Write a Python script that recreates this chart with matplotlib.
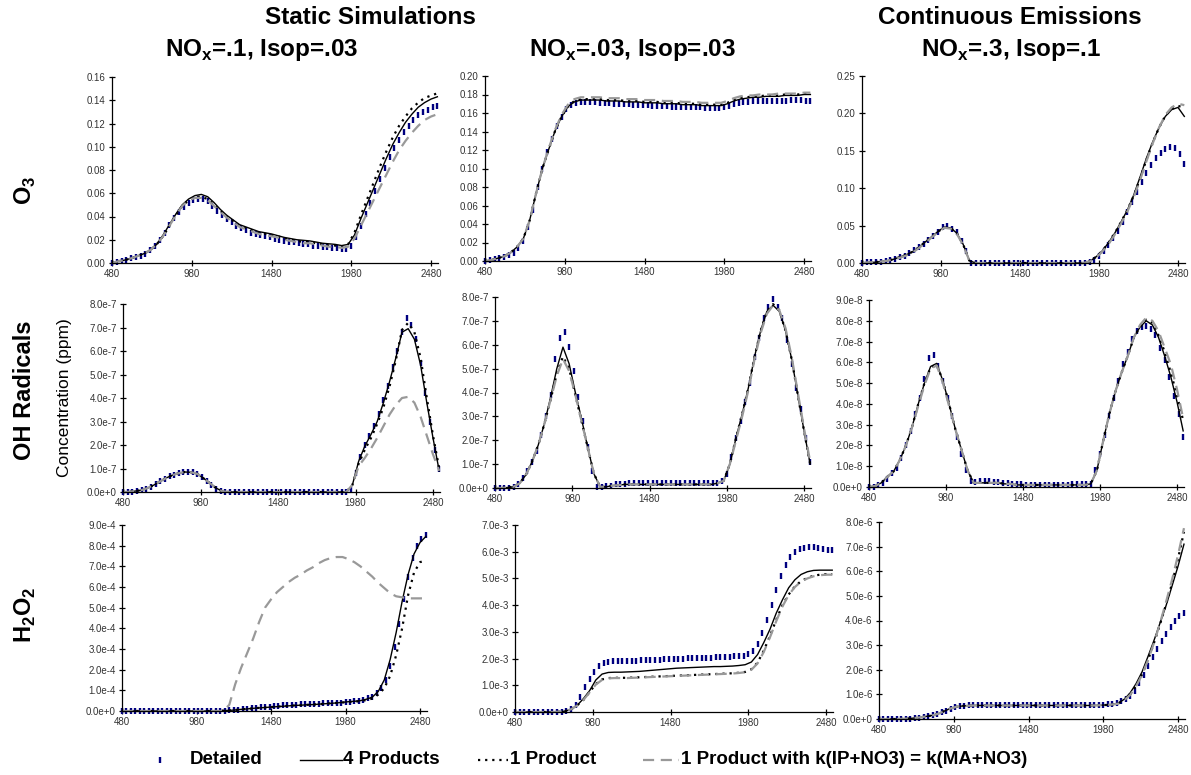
import numpy as np
import matplotlib
matplotlib.use('Agg')
import matplotlib.pyplot as plt
from matplotlib.lines import Line2D

plt.rcParams['font.family'] = ['Liberation Sans', 'DejaVu Sans']
plt.rcParams['mathtext.fontset'] = 'custom'
plt.rcParams['mathtext.rm'] = 'Liberation Sans'
plt.rcParams['mathtext.bf'] = 'Liberation Sans:bold'

# time (min) for the detailed model and for the condensed mechanisms
t_det = list(range(480, 2521, 30))
t_mod = list(range(480, 2521, 40))
x_ticks = [480, 980, 1480, 1980, 2480]

# ---------------- O3, NOx=.1 Isop=.03 (ppm)
o3_a_det = [0.000, 0.001, 0.002, 0.003, 0.004, 0.005, 0.006, 0.008, 0.011, 0.015,
            0.020, 0.026, 0.033, 0.039, 0.044, 0.048, 0.052, 0.054, 0.055, 0.055,
            0.053, 0.049, 0.045, 0.041, 0.038, 0.035, 0.032, 0.030, 0.028, 0.026,
            0.025, 0.024, 0.023, 0.022, 0.021, 0.020, 0.019, 0.018, 0.018, 0.017,
            0.016, 0.016, 0.015, 0.015, 0.014, 0.014, 0.013, 0.013, 0.012, 0.012,
            0.015, 0.022, 0.032, 0.042, 0.052, 0.062, 0.072, 0.082, 0.091, 0.099,
            0.106, 0.113, 0.118, 0.123, 0.127, 0.130, 0.132, 0.134, 0.135]
o3_a_4p = [0.000, 0.0015, 0.0025, 0.004, 0.006, 0.008, 0.011, 0.016, 0.024, 0.033,
           0.042, 0.050, 0.055, 0.058, 0.059, 0.057, 0.052, 0.046, 0.041, 0.037,
           0.033, 0.031, 0.029, 0.027, 0.026, 0.025, 0.0235, 0.022, 0.021, 0.020,
           0.0195, 0.019, 0.018, 0.017, 0.0165, 0.016, 0.015, 0.016, 0.024, 0.038,
           0.051, 0.064, 0.077, 0.090, 0.102, 0.112, 0.121, 0.128, 0.134, 0.138,
           0.141, 0.143]
o3_a_1p = [0.000, 0.0015, 0.0025, 0.004, 0.006, 0.008, 0.011, 0.016, 0.023, 0.032,
           0.041, 0.049, 0.054, 0.057, 0.057, 0.055, 0.050, 0.045, 0.040, 0.036,
           0.032, 0.030, 0.028, 0.026, 0.025, 0.024, 0.023, 0.021, 0.020, 0.019,
           0.018, 0.018, 0.017, 0.016, 0.015, 0.015, 0.014, 0.016, 0.026, 0.041,
           0.055, 0.069, 0.083, 0.096, 0.108, 0.118, 0.126, 0.133, 0.138, 0.142,
           0.144, 0.146]
o3_a_k = [0.000, 0.0015, 0.0025, 0.004, 0.006, 0.008, 0.011, 0.016, 0.023, 0.032,
          0.041, 0.049, 0.054, 0.056, 0.056, 0.054, 0.049, 0.044, 0.039, 0.035,
          0.031, 0.029, 0.027, 0.025, 0.024, 0.023, 0.022, 0.020, 0.019, 0.018,
          0.017, 0.017, 0.016, 0.015, 0.014, 0.014, 0.013, 0.014, 0.021, 0.032,
          0.043, 0.054, 0.065, 0.076, 0.087, 0.097, 0.105, 0.112, 0.118, 0.123,
          0.126, 0.128]

# ---------------- O3, NOx=.03 Isop=.03
o3_b_det = [0.000, 0.001, 0.002, 0.003, 0.004, 0.006, 0.009, 0.014, 0.022, 0.037,
            0.055, 0.080, 0.100, 0.118, 0.132, 0.146, 0.156, 0.164, 0.169, 0.171,
            0.172, 0.172, 0.172, 0.172, 0.171, 0.171, 0.171, 0.170, 0.170, 0.170,
            0.170, 0.169, 0.169, 0.169, 0.169, 0.168, 0.168, 0.168, 0.168, 0.167,
            0.167, 0.167, 0.167, 0.166, 0.166, 0.166, 0.165, 0.165, 0.165, 0.165,
            0.166, 0.168, 0.170, 0.171, 0.172, 0.172, 0.173, 0.173, 0.173, 0.173,
            0.173, 0.173, 0.173, 0.173, 0.174, 0.174, 0.174, 0.173, 0.173]
o3_b_4p = [0.000, 0.001, 0.003, 0.005, 0.009, 0.015, 0.024, 0.044, 0.073, 0.100,
           0.121, 0.141, 0.156, 0.167, 0.172, 0.174, 0.174, 0.174, 0.174, 0.173,
           0.173, 0.173, 0.172, 0.172, 0.172, 0.171, 0.171, 0.171, 0.170, 0.170,
           0.170, 0.169, 0.169, 0.169, 0.168, 0.168, 0.168, 0.168, 0.170, 0.173,
           0.175, 0.176, 0.177, 0.177, 0.178, 0.178, 0.178, 0.179, 0.179, 0.179,
           0.180, 0.180]
o3_b_1p = [0.000, 0.001, 0.003, 0.005, 0.009, 0.015, 0.024, 0.044, 0.073, 0.100,
           0.121, 0.141, 0.156, 0.167, 0.173, 0.175, 0.175, 0.175, 0.175, 0.174,
           0.174, 0.174, 0.173, 0.173, 0.173, 0.172, 0.172, 0.172, 0.171, 0.171,
           0.171, 0.170, 0.170, 0.170, 0.169, 0.169, 0.169, 0.169, 0.171, 0.174,
           0.176, 0.177, 0.178, 0.178, 0.179, 0.179, 0.179, 0.180, 0.180, 0.180,
           0.181, 0.181]
o3_b_k = [0.000, 0.001, 0.003, 0.005, 0.009, 0.015, 0.024, 0.044, 0.073, 0.100,
          0.122, 0.142, 0.158, 0.169, 0.175, 0.177, 0.177, 0.177, 0.177, 0.176,
          0.176, 0.176, 0.175, 0.175, 0.175, 0.174, 0.174, 0.174, 0.173, 0.173,
          0.173, 0.172, 0.172, 0.172, 0.171, 0.171, 0.171, 0.171, 0.173, 0.176,
          0.178, 0.179, 0.179, 0.180, 0.180, 0.180, 0.181, 0.181, 0.181, 0.181,
          0.182, 0.182]

# ---------------- O3, continuous emissions NOx=.3 Isop=.1
o3_c_det = [0.000, 0.001, 0.001, 0.002, 0.002, 0.003, 0.004, 0.006, 0.008, 0.010,
            0.013, 0.017, 0.021, 0.026, 0.031, 0.036, 0.041, 0.048, 0.049, 0.046,
            0.041, 0.030, 0.016, 0.000, 0.000, 0.000, 0.000, 0.000, 0.000, 0.000,
            0.000, 0.000, 0.000, 0.000, 0.000, 0.000, 0.000, 0.000, 0.000, 0.000,
            0.000, 0.000, 0.000, 0.000, 0.000, 0.000, 0.000, 0.000, 0.001, 0.004,
            0.010, 0.016, 0.024, 0.033, 0.043, 0.055, 0.068, 0.082, 0.095, 0.108,
            0.120, 0.131, 0.140, 0.147, 0.152, 0.155, 0.154, 0.146, 0.133]
o3_c_4p = [0.000, 0.001, 0.001, 0.002, 0.003, 0.005, 0.008, 0.011, 0.015, 0.021,
           0.028, 0.035, 0.042, 0.048, 0.047, 0.040, 0.025, 0.003, 0.000, 0.000,
           0.000, 0.000, 0.000, 0.000, 0.000, 0.000, 0.000, 0.000, 0.000, 0.000,
           0.000, 0.000, 0.000, 0.000, 0.000, 0.000, 0.002, 0.008, 0.016, 0.027,
           0.040, 0.055, 0.071, 0.091, 0.115, 0.140, 0.162, 0.181, 0.196, 0.205,
           0.208, 0.196]
o3_c_1p = [0.000, 0.001, 0.001, 0.002, 0.003, 0.005, 0.008, 0.011, 0.015, 0.021,
           0.028, 0.035, 0.042, 0.047, 0.047, 0.040, 0.025, 0.003, 0.000, 0.000,
           0.000, 0.000, 0.000, 0.000, 0.000, 0.000, 0.000, 0.000, 0.000, 0.000,
           0.000, 0.000, 0.000, 0.000, 0.000, 0.000, 0.002, 0.008, 0.016, 0.027,
           0.040, 0.055, 0.071, 0.090, 0.113, 0.138, 0.161, 0.181, 0.197, 0.206,
           0.210, 0.208]
o3_c_k = [0.000, 0.001, 0.001, 0.002, 0.003, 0.005, 0.007, 0.010, 0.014, 0.020,
          0.027, 0.034, 0.041, 0.047, 0.046, 0.039, 0.024, 0.003, 0.000, 0.000,
          0.000, 0.000, 0.000, 0.000, 0.000, 0.000, 0.000, 0.000, 0.000, 0.000,
          0.000, 0.000, 0.000, 0.000, 0.000, 0.000, 0.002, 0.007, 0.015, 0.025,
          0.038, 0.053, 0.069, 0.088, 0.111, 0.136, 0.160, 0.181, 0.198, 0.208,
          0.213, 0.211]

# ---------------- OH, NOx=.1 Isop=.03 (x 1e-7 ppm)
oh_a_det = [0, 0, 0.02, 0.05, 0.08, 0.14, 0.22, 0.33, 0.45, 0.56,
            0.66, 0.74, 0.80, 0.84, 0.85, 0.83, 0.77, 0.65, 0.48, 0.30,
            0.14, 0.04, 0, 0, 0, 0, 0, 0, 0, 0,
            0, 0, 0, 0, 0, 0, 0, 0, 0, 0,
            0, 0, 0, 0, 0, 0, 0, 0, 0, 0.1,
            0.8, 1.5, 2.0, 2.4, 2.8, 3.3, 3.9, 4.5, 5.3, 6.0,
            6.8, 7.4, 7.1, 6.5, 5.5, 4.2, 3.0, 1.8, 1.0]
oh_a_4p = [0, 0.01, 0.04, 0.08, 0.17, 0.30, 0.45, 0.60, 0.72, 0.80,
           0.85, 0.84, 0.77, 0.58, 0.38, 0.17, 0.03, 0, 0, 0,
           0, 0, 0, 0, 0, 0, 0, 0, 0, 0,
           0, 0, 0, 0, 0, 0, 0, 0.3, 1.3, 1.95,
           2.45, 3.0, 3.8, 4.7, 5.7, 6.8, 6.95, 6.5, 5.4, 3.8,
           2.3, 0.9]
oh_a_1p = [0, 0.01, 0.04, 0.08, 0.17, 0.30, 0.45, 0.60, 0.72, 0.80,
           0.85, 0.84, 0.77, 0.58, 0.38, 0.17, 0.03, 0, 0, 0,
           0, 0, 0, 0, 0, 0, 0, 0, 0, 0,
           0, 0, 0, 0, 0, 0, 0, 0.3, 1.2, 1.8,
           2.3, 2.9, 3.6, 4.5, 5.6, 6.9, 7.2, 6.8, 5.7, 4.0,
           2.4, 1.0]
oh_a_k = [0, 0.01, 0.04, 0.08, 0.17, 0.30, 0.45, 0.60, 0.72, 0.80,
          0.85, 0.84, 0.77, 0.58, 0.38, 0.17, 0.03, 0, 0, 0,
          0, 0, 0, 0, 0, 0, 0, 0, 0, 0,
          0, 0, 0, 0, 0, 0, 0, 0.3, 1.1, 1.45,
          1.85, 2.3, 2.8, 3.3, 3.7, 4.0, 4.05, 3.8, 3.2, 2.4,
          1.6, 0.9]

# ---------------- OH, NOx=.03 Isop=.03 (x 1e-7 ppm)
oh_b_det = [0, 0, 0, 0.02, 0.05, 0.15, 0.4, 0.7, 1.1, 1.55,
            2.2, 3.0, 3.9, 5.4, 6.3, 6.55, 5.9, 4.9, 3.8, 2.8,
            1.7, 0.7, 0.05, 0.05, 0.08, 0.1, 0.15, 0.15, 0.18, 0.2,
            0.2, 0.2, 0.2, 0.2, 0.2, 0.2, 0.2, 0.2, 0.2, 0.2,
            0.2, 0.2, 0.2, 0.2, 0.2, 0.2, 0.2, 0.2, 0.2, 0.3,
            0.6, 1.3, 2.1, 2.8, 3.6, 4.4, 5.5, 6.3, 7.1, 7.6,
            7.9, 7.6, 7.1, 6.2, 5.2, 4.2, 3.3, 2.1, 1.1]
oh_b_4p = [0, 0, 0.02, 0.05, 0.2, 0.55, 1.1, 1.8, 2.7, 3.8,
           5.0, 5.9, 5.2, 4.0, 2.9, 1.7, 0.6, 0.05, 0.05, 0.1,
           0.12, 0.15, 0.15, 0.15, 0.15, 0.15, 0.15, 0.15, 0.15, 0.15,
           0.15, 0.15, 0.15, 0.15, 0.15, 0.15, 0.2, 0.3, 1.0, 2.1,
           3.1, 4.2, 5.5, 6.6, 7.4, 7.65, 7.4, 6.6, 5.4, 3.9,
           2.4, 1.0]
oh_b_1p = [0, 0, 0.02, 0.05, 0.2, 0.55, 1.1, 1.8, 2.7, 3.7,
           4.8, 5.5, 5.0, 3.9, 2.8, 1.7, 0.6, 0.05, 0.05, 0.1,
           0.12, 0.15, 0.15, 0.15, 0.15, 0.15, 0.15, 0.15, 0.15, 0.15,
           0.15, 0.15, 0.15, 0.15, 0.15, 0.15, 0.2, 0.3, 1.0, 2.1,
           3.1, 4.2, 5.5, 6.6, 7.4, 7.7, 7.45, 6.6, 5.4, 3.9,
           2.4, 1.0]
oh_b_k = [0, 0, 0.02, 0.05, 0.2, 0.55, 1.1, 1.8, 2.7, 3.7,
          4.7, 5.4, 4.9, 3.9, 2.8, 1.7, 0.6, 0.05, 0.05, 0.1,
          0.12, 0.15, 0.15, 0.15, 0.15, 0.15, 0.15, 0.15, 0.15, 0.15,
          0.15, 0.15, 0.15, 0.15, 0.15, 0.15, 0.2, 0.3, 1.0, 2.0,
          3.0, 4.1, 5.4, 6.5, 7.3, 7.65, 7.45, 6.7, 5.5, 4.0,
          2.5, 1.1]

# ---------------- OH, continuous emissions (x 1e-8 ppm)
oh_c_det = [0, 0, 0.1, 0.2, 0.4, 0.65, 0.9, 1.4, 2.0, 2.7,
            3.5, 4.3, 5.2, 6.2, 6.35, 5.8, 5.1, 4.3, 3.4, 2.4,
            1.6, 0.8, 0.3, 0.25, 0.3, 0.3, 0.3, 0.25, 0.25, 0.2,
            0.2, 0.15, 0.15, 0.15, 0.1, 0.1, 0.1, 0.1, 0.1, 0.1,
            0.1, 0.1, 0.1, 0.1, 0.15, 0.15, 0.15, 0.15, 0.15, 0.8,
            1.6, 2.5, 3.4, 4.3, 5.1, 5.9, 6.5, 7.1, 7.5, 7.7,
            7.75, 7.6, 7.3, 6.7, 6.1, 5.3, 4.4, 3.5, 2.4]
oh_c_4p = [0, 0.05, 0.2, 0.5, 0.75, 1.3, 2.0, 2.9, 4.0, 5.0,
           5.8, 5.95, 5.1, 4.0, 2.8, 1.8, 0.8, 0.2, 0.2, 0.2,
           0.2, 0.2, 0.15, 0.15, 0.1, 0.1, 0.1, 0.1, 0.1, 0.1,
           0.1, 0.1, 0.1, 0.1, 0.1, 0.1, 0.15, 0.8, 2.2, 3.5,
           4.6, 5.5, 6.3, 7.2, 7.7, 8.0, 7.8, 7.2, 6.3, 5.3,
           4.1, 2.7]
oh_c_1p = [0, 0.05, 0.2, 0.5, 0.75, 1.3, 2.0, 2.9, 4.0, 5.0,
           5.75, 5.9, 5.1, 4.0, 2.8, 1.8, 0.8, 0.2, 0.2, 0.2,
           0.2, 0.2, 0.15, 0.15, 0.1, 0.1, 0.1, 0.1, 0.1, 0.1,
           0.1, 0.1, 0.1, 0.1, 0.1, 0.1, 0.15, 0.8, 2.2, 3.5,
           4.6, 5.5, 6.3, 7.2, 7.7, 8.05, 7.9, 7.3, 6.5, 5.5,
           4.4, 3.2]
oh_c_k = [0, 0.05, 0.2, 0.5, 0.75, 1.3, 2.0, 2.9, 3.9, 4.9,
          5.7, 5.85, 5.0, 3.9, 2.8, 1.8, 0.8, 0.2, 0.2, 0.2,
          0.2, 0.2, 0.15, 0.15, 0.1, 0.1, 0.1, 0.1, 0.1, 0.1,
          0.1, 0.1, 0.1, 0.1, 0.1, 0.1, 0.15, 0.8, 2.2, 3.5,
          4.6, 5.5, 6.3, 7.2, 7.8, 8.15, 8.0, 7.5, 6.7, 5.9,
          4.7, 3.3]

# ---------------- H2O2, NOx=.1 Isop=.03 (x 1e-4 ppm)
h2o2_a_det = [0, 0, 0, 0, 0, 0, 0, 0, 0, 0,
              0, 0, 0, 0, 0, 0, 0, 0, 0, 0,
              0, 0, 0, 0, 0.03, 0.05, 0.07, 0.09, 0.11, 0.13,
              0.15, 0.17, 0.19, 0.21, 0.23, 0.25, 0.27, 0.28, 0.30, 0.31,
              0.32, 0.33, 0.34, 0.35, 0.36, 0.37, 0.38, 0.39, 0.40, 0.41,
              0.42, 0.44, 0.46, 0.50, 0.55, 0.62, 0.70, 0.85, 1.1, 1.5,
              2.2, 3.1, 4.2, 5.4, 6.5, 7.4, 8.0, 8.3, 8.5]
h2o2_a_4p = [0, 0, 0, 0, 0, 0, 0, 0, 0, 0,
             0, 0, 0, 0, 0, 0, 0, 0.02, 0.03, 0.05,
             0.08, 0.10, 0.13, 0.15, 0.17, 0.19, 0.21, 0.23, 0.25, 0.27,
             0.28, 0.30, 0.31, 0.33, 0.35, 0.37, 0.39, 0.42, 0.45, 0.47,
             0.50, 0.57, 0.67, 0.95, 1.5, 2.5, 3.8, 5.3, 6.6, 7.6,
             8.15, 8.45]
h2o2_a_1p = [0, 0, 0, 0, 0, 0, 0, 0, 0, 0,
             0, 0, 0, 0, 0, 0, 0, 0.02, 0.03, 0.05,
             0.08, 0.10, 0.13, 0.15, 0.17, 0.19, 0.21, 0.23, 0.25, 0.27,
             0.28, 0.30, 0.31, 0.33, 0.35, 0.37, 0.39, 0.41, 0.43, 0.45,
             0.48, 0.53, 0.60, 0.8, 1.1, 1.7, 2.7, 4.0, 5.6, 6.7,
             7.2, 7.3]
h2o2_a_k = [0, 0, 0, 0, 0, 0, 0, 0, 0, 0,
            0, 0, 0, 0, 0, 0, 0, 0, 0.3, 1.3,
            2.1, 2.8, 3.5, 4.3, 5.0, 5.4, 5.75, 6.0, 6.25, 6.45,
            6.6, 6.8, 6.95, 7.15, 7.3, 7.4, 7.45, 7.45, 7.35, 7.2,
            7.0, 6.75, 6.5, 6.2, 5.95, 5.7, 5.55, 5.5, 5.45, 5.45,
            5.45, 5.45]

# ---------------- H2O2, NOx=.03 Isop=.03 (x 1e-3 ppm)
h2o2_b_det = [0, 0, 0, 0, 0, 0, 0, 0, 0, 0,
              0, 0.03, 0.1, 0.28, 0.58, 0.92, 1.22, 1.5, 1.72, 1.85,
              1.89, 1.9, 1.9, 1.91, 1.91, 1.92, 1.92, 1.93, 1.93, 1.94,
              1.95, 1.96, 1.97, 1.98, 1.99, 2.0, 2.0, 2.01, 2.02, 2.02,
              2.03, 2.04, 2.04, 2.05, 2.06, 2.06, 2.07, 2.08, 2.09, 2.11,
              2.16, 2.3, 2.55, 2.95, 3.45, 4.0, 4.55, 5.1, 5.5, 5.8,
              6.0, 6.1, 6.15, 6.18, 6.18, 6.15, 6.1, 6.08, 6.05]
h2o2_b_4p = [0, 0, 0, 0, 0, 0, 0, 0.01, 0.03, 0.1,
             0.25, 0.5, 0.8, 1.2, 1.42, 1.48, 1.49, 1.49, 1.5, 1.51,
             1.52, 1.54, 1.56, 1.58, 1.6, 1.62, 1.64, 1.65, 1.66, 1.67,
             1.68, 1.69, 1.7, 1.7, 1.71, 1.72, 1.74, 1.77, 1.87, 2.15,
             2.6, 3.1, 3.7, 4.2, 4.65, 4.95, 5.15, 5.25, 5.3, 5.31,
             5.31, 5.31]
h2o2_b_1p = [0, 0, 0, 0, 0, 0, 0, 0.01, 0.03, 0.1,
             0.25, 0.45, 0.75, 1.05, 1.22, 1.27, 1.28, 1.28, 1.28, 1.29,
             1.3, 1.31, 1.32, 1.33, 1.34, 1.35, 1.36, 1.37, 1.38, 1.39,
             1.4, 1.41, 1.42, 1.43, 1.44, 1.45, 1.47, 1.5, 1.6, 1.85,
             2.3, 2.85, 3.45, 4.0, 4.4, 4.7, 4.9, 5.02, 5.1, 5.14,
             5.16, 5.16]
h2o2_b_k = [0, 0, 0, 0, 0, 0, 0, 0.01, 0.03, 0.1,
            0.24, 0.45, 0.74, 1.03, 1.2, 1.26, 1.27, 1.27, 1.27, 1.28,
            1.29, 1.3, 1.31, 1.32, 1.33, 1.34, 1.35, 1.36, 1.37, 1.38,
            1.39, 1.4, 1.41, 1.42, 1.43, 1.44, 1.46, 1.49, 1.58, 1.82,
            2.25, 2.8, 3.4, 3.95, 4.38, 4.68, 4.88, 5.0, 5.08, 5.12,
            5.14, 5.14]

# ---------------- H2O2, continuous emissions (x 1e-6 ppm)
h2o2_c_det = [0, 0, 0, 0, 0, 0, 0, 0.02, 0.04, 0.06,
              0.09, 0.12, 0.16, 0.21, 0.27, 0.34, 0.41, 0.47, 0.51, 0.54,
              0.56, 0.57, 0.57, 0.57, 0.57, 0.57, 0.57, 0.57, 0.57, 0.57,
              0.57, 0.57, 0.57, 0.57, 0.57, 0.57, 0.57, 0.57, 0.57, 0.57,
              0.57, 0.57, 0.57, 0.57, 0.57, 0.57, 0.57, 0.57, 0.57, 0.57,
              0.58, 0.59, 0.6, 0.65, 0.72, 0.82, 0.95, 1.15, 1.45, 1.8,
              2.15, 2.5, 2.85, 3.15, 3.45, 3.75, 4.0, 4.2, 4.3]
h2o2_c_4p = [0, 0, 0, 0, 0.01, 0.02, 0.04, 0.07, 0.11, 0.15,
             0.22, 0.33, 0.43, 0.5, 0.53, 0.54, 0.55, 0.55, 0.55, 0.55,
             0.55, 0.55, 0.55, 0.55, 0.55, 0.55, 0.55, 0.55, 0.55, 0.55,
             0.55, 0.55, 0.55, 0.55, 0.55, 0.55, 0.55, 0.56, 0.57, 0.59,
             0.64, 0.8, 1.06, 1.44, 1.92, 2.55, 3.2, 3.9, 4.6, 5.4,
             6.2, 7.1]
h2o2_c_1p = [0, 0, 0, 0, 0.01, 0.02, 0.04, 0.07, 0.11, 0.15,
             0.22, 0.33, 0.43, 0.5, 0.53, 0.54, 0.55, 0.55, 0.55, 0.55,
             0.55, 0.55, 0.55, 0.55, 0.55, 0.55, 0.55, 0.55, 0.55, 0.55,
             0.55, 0.55, 0.55, 0.55, 0.55, 0.55, 0.55, 0.56, 0.57, 0.59,
             0.63, 0.78, 1.0, 1.35, 1.82, 2.4, 3.1, 3.85, 4.65, 5.5,
             6.5, 7.6]
h2o2_c_k = [0, 0, 0, 0, 0.01, 0.02, 0.04, 0.07, 0.11, 0.15,
            0.22, 0.33, 0.43, 0.5, 0.53, 0.54, 0.55, 0.55, 0.55, 0.55,
            0.55, 0.55, 0.55, 0.55, 0.55, 0.55, 0.55, 0.55, 0.55, 0.55,
            0.55, 0.55, 0.55, 0.55, 0.55, 0.55, 0.55, 0.56, 0.57, 0.59,
            0.62, 0.76, 0.98, 1.33, 1.8, 2.4, 3.1, 3.9, 4.75, 5.65,
            6.65, 7.75]

W, H = 1191, 775
fig = plt.figure(figsize=(W / 100, H / 100), dpi=100)

def px_rect(left, tick2480, top, bottom):
    # axes box from pixel positions of the y axis, the 2480 tick, ymax and y=0
    width = (tick2480 - left) * 2045 / 2000
    return [left / W, 1 - bottom / H, width / W, (bottom - top) / H]

def sci(v, pos):
    if v == 0:
        return '0.0e+0'
    m, e = ('%.1e' % v).split('e')
    return '%se%+d' % (m, int(e))

panels = [
    (o3_a_det, o3_a_4p, o3_a_1p, o3_a_k, 1, 0.16, 0.02, px_rect(112, 431, 77, 263)),
    (o3_b_det, o3_b_4p, o3_b_1p, o3_b_k, 1, 0.20, 0.02, px_rect(485, 804, 76, 261)),
    (o3_c_det, o3_c_4p, o3_c_1p, o3_c_k, 1, 0.25, 0.05, px_rect(862, 1178, 76, 263)),
    (oh_a_det, oh_a_4p, oh_a_1p, oh_a_k, 1e-7, 8e-7, 1e-7, px_rect(123, 433, 304, 492)),
    (oh_b_det, oh_b_4p, oh_b_1p, oh_b_k, 1e-7, 8e-7, 1e-7, px_rect(495, 804, 297, 488)),
    (oh_c_det, oh_c_4p, oh_c_1p, oh_c_k, 1e-8, 9e-8, 1e-8, px_rect(869, 1177, 300, 487)),
    (h2o2_a_det, h2o2_a_4p, h2o2_a_1p, h2o2_a_k, 1e-4, 9e-4, 1e-4, px_rect(122, 420, 525, 711)),
    (h2o2_b_det, h2o2_b_4p, h2o2_b_1p, h2o2_b_k, 1e-3, 7e-3, 1e-3, px_rect(515, 826, 525, 712)),
    (h2o2_c_det, h2o2_c_4p, h2o2_c_1p, h2o2_c_k, 1e-6, 8e-6, 1e-6, px_rect(879, 1178, 522, 719)),
]

navy = '#000080'
grey = '#999999'
dot_style = (0, (1, 2.2))
dash_style = (0, (5, 3))

for i, (det, p4, p1, pk, scale, ymax, ystep, rect) in enumerate(panels):
    ax = fig.add_axes(rect)
    ax.plot(t_det, np.array(det) * scale, ls='none', marker='|', color=navy,
            ms=4.7, mew=1.7, clip_on=False)
    ax.plot(t_mod, np.array(p4) * scale, color='black', lw=1.0, clip_on=False)
    ax.plot(t_mod, np.array(p1) * scale, color='black', lw=1.6, ls=dot_style, clip_on=False)
    ax.plot(t_mod, np.array(pk) * scale, color=grey, lw=1.6, ls=dash_style, clip_on=False)
    ax.set_xlim(480, 2525)
    ax.set_ylim(0, ymax)
    ax.set_xticks(x_ticks)
    ax.set_yticks(np.arange(0, ymax + ystep / 2, ystep))
    if i < 3:
        ax.yaxis.set_major_formatter(plt.FormatStrFormatter('%.2f'))
    else:
        ax.yaxis.set_major_formatter(plt.FuncFormatter(sci))
    for s in ['top', 'right']:
        ax.spines[s].set_visible(False)
    for s in ['left', 'bottom']:
        ax.spines[s].set_linewidth(0.9)
    ax.tick_params(direction='inout', length=5, width=0.9, labelsize=7,
                   labelcolor='#333333', pad=2)
    ax.set_facecolor('none')

def fx(x):
    return x / W

def fy(y):
    return 1 - y / H

# column headers
head = dict(ha='center', va='center', fontsize=17.5, fontweight='bold')
fig.text(fx(370), fy(18), 'Static Simulations', **head)
fig.text(fx(1010), fy(18), 'Continuous Emissions', **head)
fig.text(fx(262), fy(50), r'NO$_\mathbf{x}$=.1, Isop=.03', **head)
fig.text(fx(632), fy(50), r'NO$_\mathbf{x}$=.03, Isop=.03', **head)
fig.text(fx(1011), fy(50), r'NO$_\mathbf{x}$=.3, Isop=.1', **head)

# row labels
rowl = dict(rotation=90, ha='center', va='center', fontsize=17, fontweight='bold')
fig.text(fx(25), fy(190), r'O$_\mathbf{3}$', **rowl)
fig.text(fx(25), fy(390), 'OH Radicals', **rowl)
fig.text(fx(25), fy(615), r'H$_\mathbf{2}$O$_\mathbf{2}$', **rowl)
fig.text(fx(65), fy(398), 'Concentration (ppm)', rotation=90, ha='center', va='center',
         fontsize=12.5)

# legend along the bottom
ly = fy(760)
leg = dict(ha='left', va='center', fontsize=13.5, fontweight='bold')
fig.add_artist(Line2D([fx(160)], [ly], ls='none', marker='|', color=navy, ms=4.7, mew=1.7,
                      transform=fig.transFigure))
fig.text(fx(190), ly, 'Detailed', **leg)
fig.add_artist(Line2D([fx(300), fx(342)], [ly, ly], color='black', lw=1.0,
                      transform=fig.transFigure))
fig.text(fx(343), ly, '4 Products', **leg)
fig.add_artist(Line2D([fx(478), fx(508)], [ly, ly], color='black', lw=1.6, ls=dot_style,
                      transform=fig.transFigure))
fig.text(fx(510), ly, '1 Product', **leg)
fig.add_artist(Line2D([fx(643), fx(679)], [ly, ly], color=grey, lw=1.6, ls=dash_style,
                      transform=fig.transFigure))
fig.text(fx(681), ly, '1 Product with k(IP+NO3) = k(MA+NO3)', **leg)

fig.savefig('out.png', dpi=100)
